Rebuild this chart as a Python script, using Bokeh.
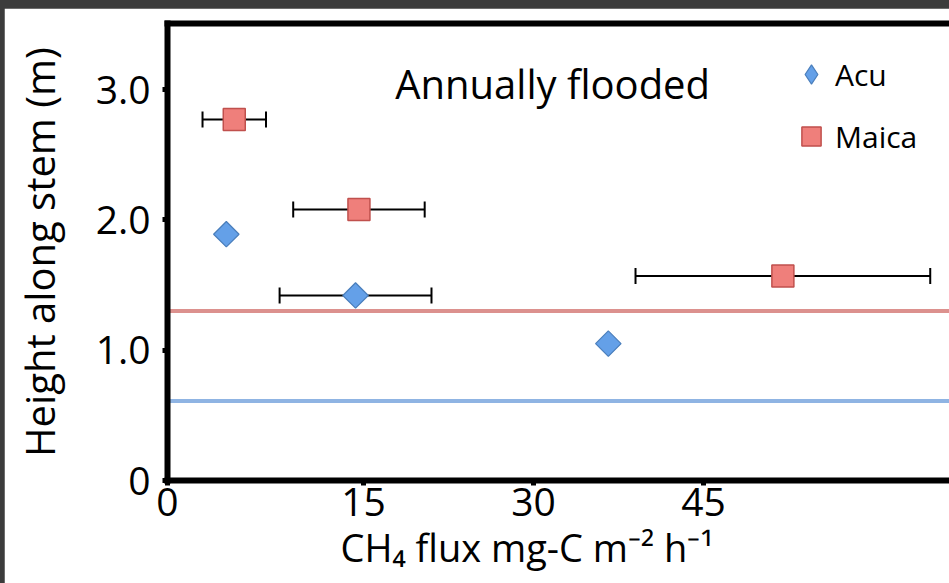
import numpy as np
from bokeh.plotting import figure
from bokeh.models import (ColumnDataSource, Whisker, TeeHead, Span, Label, Legend,
                          LegendItem, FixedTicker, LinearAxis, Range1d, Title)
from bokeh.layouts import column
from bokeh.embed import file_html
from bokeh.resources import INLINE

# ---- data ----
series_names = ["Acu", "Maica"]
acu_flux = [2.9, 14.3, 36.6]
acu_height = [1.89, 1.42, 1.05]
acu_err = [0.0, 6.7, 0.0]
maica_flux = [3.6, 14.6, 52.0]
maica_height = [2.77, 2.08, 1.57]
maica_err = [2.8, 5.8, 13.0]
level_maica = 1.30
level_acu = 0.61
x_tick_values = [15, 30, 45]
x_tick_labels = ["15", "30", "45"]
y_tick_values = [0, 1, 2, 3]
y_tick_labels = ["0", "1.0", "2.0", "3.0"]
panel_title = "Annually flooded"
x_label = "CH\u2084 flux mg-C m\u207b\u00b2 h\u207b\u00b9"
y_label = "Height along stem (m)"

X_START, X_END = -2.29, 66.7
Y_START, Y_END = 0.0, 3.507
FONT = "Open Sans"

p = figure(width=945, height=575, x_range=Range1d(X_START, X_END),
           y_range=Range1d(Y_START, Y_END), output_backend="svg",
           toolbar_location=None, min_border_left=163, min_border_top=15,
           min_border_bottom=103, min_border_right=0)
p.margin = (8, 0, 0, 4)
p.grid.visible = False
p.outline_line_color = None
p.background_fill_color = "white"
p.border_fill_color = "white"

# axes
xt = [X_START] + x_tick_values
p.xaxis.ticker = FixedTicker(ticks=xt)
p.xaxis.major_label_overrides = {X_START: "0", **{v: l for v, l in zip(x_tick_values, x_tick_labels)}}
p.yaxis.ticker = FixedTicker(ticks=y_tick_values)
p.yaxis.major_label_overrides = {v: l for v, l in zip(y_tick_values, y_tick_labels)}
p.yaxis.axis_label = y_label
for ax in (p.xaxis[0], p.yaxis[0]):
    ax.axis_line_width = 6
    ax.axis_line_color = "black"
    ax.axis_line_cap = "square"
    ax.major_tick_line_width = 5
    ax.major_tick_line_color = "black"
    ax.major_tick_out = 5
    ax.major_tick_in = 0
    ax.minor_tick_out = 0
    ax.minor_tick_in = 0
    ax.major_label_text_font = FONT
    ax.major_label_text_font_size = "39px"
    ax.major_label_text_color = "black"
    ax.axis_label_text_font = FONT
    ax.axis_label_text_font_style = "normal"
    ax.axis_label_text_color = "black"
p.yaxis.axis_label_text_font_size = "40px"
p.yaxis.major_label_standoff = 12
p.yaxis.axis_label_standoff = 26
p.xaxis.major_label_standoff = 2

top = LinearAxis(ticker=FixedTicker(ticks=[]), major_label_text_font_size="0px",
                 axis_line_width=6, axis_line_color="black", axis_line_cap="square",
                 major_tick_out=0, major_tick_in=0, minor_tick_out=0, minor_tick_in=0)
p.add_layout(top, "above")

# x axis title (placed under the labelled ticks, as in the reference)
p.add_layout(Title(text=x_label, align="left", offset=173, standoff=0,
                   text_font=FONT, text_font_size="38px", text_font_style="normal",
                   text_color="black"), "below")

# reference levels
p.add_layout(Span(location=level_maica, dimension="width", line_color="#dc918e",
                  line_width=4, level="underlay"))
p.add_layout(Span(location=level_acu, dimension="width", line_color="#8fb4e3",
                  line_width=4, level="underlay"))

# error bars
def whisker_source(xs, ys, es):
    rows = [(x, y, e) for x, y, e in zip(xs, ys, es) if e > 0]
    return ColumnDataSource(dict(y=[r[1] for r in rows],
                                 lo=[r[0] - r[2] for r in rows],
                                 hi=[r[0] + r[2] for r in rows]))

for xs, ys, es in ((acu_flux, acu_height, acu_err), (maica_flux, maica_height, maica_err)):
    w = Whisker(source=whisker_source(xs, ys, es), base="y", lower="lo", upper="hi",
                dimension="width", line_color="black", line_width=2,
                upper_head=TeeHead(size=16, line_width=2, line_color="black"),
                lower_head=TeeHead(size=16, line_width=2, line_color="black"))
    p.add_layout(w)

ACU_FILL, ACU_LINE = "#64a0e8", "#4a7ebb"
MAICA_FILL, MAICA_LINE = "#ef7f7b", "#c0504d"
acu_src = ColumnDataSource(dict(x=acu_flux, y=acu_height))
maica_src = ColumnDataSource(dict(x=maica_flux, y=maica_height))
r_acu = p.scatter("x", "y", source=acu_src, marker="square", angle=np.pi / 4, size=18,
                  fill_color=ACU_FILL, line_color=ACU_LINE, line_width=1.2)
r_maica = p.scatter("x", "y", source=maica_src, marker="square", size=22,
                    fill_color=MAICA_FILL, line_color=MAICA_LINE, line_width=1.5)
# legend swatch for Acu (legend glyphs are drawn unrotated, so use a diamond marker;
# its single point is NaN so nothing is drawn in the plot area)
r_acu_key = p.scatter(x=[np.nan], y=[np.nan], marker="diamond", size=10,
                      fill_color=ACU_FILL, line_color=ACU_LINE, line_width=1.2)

legend = Legend(items=[LegendItem(label=series_names[0], renderers=[r_acu_key]),
                       LegendItem(label=series_names[1], renderers=[r_maica])],
                location=(620, 320), border_line_color=None, background_fill_alpha=0,
                label_text_font=FONT, label_text_font_size="30px", label_text_color="black",
                glyph_width=48, glyph_height=48, spacing=14, padding=0, margin=0,
                label_standoff=0)
p.add_layout(legend)

p.add_layout(Label(x=17.8, y=3.05, text=panel_title, text_font=FONT,
                   text_font_size="40px", text_color="black", text_baseline="alphabetic"))

layout = column(p, styles={"background-color": "#3c3c3c"})
open("out.html", "w").write(file_html(layout, INLINE))
